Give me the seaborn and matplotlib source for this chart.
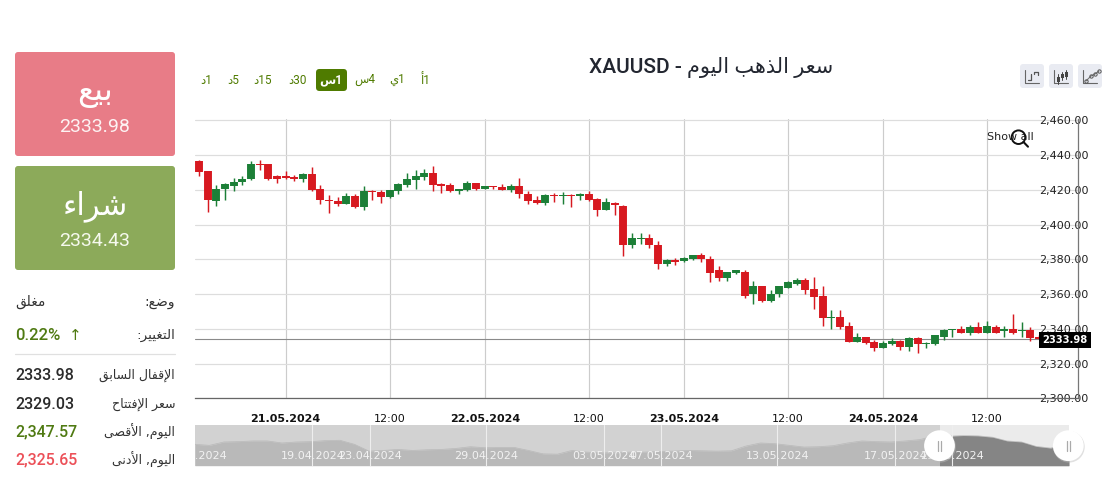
import re
import numpy as np
import pandas as pd
import matplotlib
matplotlib.use("Agg")
import matplotlib.pyplot as plt
from matplotlib.patches import FancyBboxPatch, Circle, Rectangle
import seaborn as sns

# ---------- data ----------
opens = [2436.7,2431.0,2413.4,2420.3,2422.4,2424.7,2426.0,2435.0,2435.0,2427.7,2428.1,2427.5,2426.0,2429.3,2420.7,2414.3,2413.8,2412.0,2416.6,2410.3,
         2419.5,2418.9,2416.1,2419.5,2423.0,2425.8,2427.5,2429.8,2423.5,2423.0,2419.5,2420.1,2424.1,2420.7,2422.4,2421.8,2420.1,2422.4,2417.8,2414.3,
         2412.6,2417.2,2416.6,2417.2,2416.6,2417.8,2414.9,2408.6,2412.6,2410.9,2388.5,2391.9,2392.5,2388.5,2377.6,2379.9,2379.3,2380.4,2382.7,2380.4,
         2373.6,2369.5,2372.4,2373.0,2359.8,2364.4,2355.8,2360.3,2363.8,2366.1,2368.4,2363.2,2359.2,2346.0,2346.6,2341.4,2332.2,2335.1,2332.2,2328.8,
         2331.1,2332.8,2329.3,2334.5,2331.1,2331.1,2335.1,2339.1,2339.7,2337.9,2340.8,2337.9,2340.8,2338.5,2340.2,2338.5,2339.1,2335.6]
highs = [2437.3,2431.0,2423.0,2423.9,2426.8,2428.1,2436.7,2437.3,2435.0,2428.7,2431.0,2428.7,2429.8,2433.1,2423.0,2417.2,2415.9,2418.2,2417.8,2422.4,
         2420.1,2420.1,2420.1,2424.1,2429.8,2431.6,2432.1,2433.9,2423.9,2424.1,2420.7,2425.2,2424.1,2422.4,2422.4,2423.5,2423.5,2427.0,2419.5,2416.6,
         2417.8,2418.4,2418.9,2417.8,2418.4,2419.5,2415.5,2415.5,2413.2,2411.5,2395.4,2395.4,2394.8,2390.8,2380.4,2381.0,2381.6,2382.7,2383.9,2382.2,
         2375.9,2373.0,2374.1,2373.6,2367.8,2364.9,2362.1,2364.4,2367.8,2369.5,2369.5,2370.1,2364.4,2350.6,2350.6,2343.7,2337.4,2335.6,2333.4,2332.8,
         2334.5,2333.4,2335.6,2335.1,2332.2,2336.2,2340.2,2340.2,2341.4,2342.0,2343.7,2344.8,2342.5,2341.4,2348.3,2343.7,2340.8,2336.6]
lows = [2427.7,2407.1,2410.5,2414.3,2419.1,2422.6,2425.4,2431.2,2425.8,2423.9,2426.4,2424.9,2424.3,2419.5,2411.7,2406.5,2410.5,2412.0,2409.4,2408.2,
        2414.0,2412.2,2415.1,2417.4,2421.8,2420.3,2425.4,2419.5,2418.0,2418.5,2417.4,2419.5,2420.1,2420.7,2420.7,2420.1,2418.9,2415.5,2412.0,2412.0,
        2411.5,2413.2,2412.0,2410.3,2414.3,2413.8,2404.8,2408.6,2405.7,2382.2,2386.4,2389.1,2386.8,2374.7,2376.4,2377.0,2378.7,2379.9,2378.7,2366.7,
        2367.8,2367.8,2371.3,2358.0,2354.6,2355.2,2355.2,2358.6,2363.8,2365.5,2360.3,2351.2,2341.4,2340.2,2340.2,2332.2,2332.2,2331.1,2327.0,2328.8,
        2330.5,2327.6,2327.0,2325.9,2328.8,2330.5,2333.4,2335.6,2337.4,2336.2,2337.4,2337.9,2337.9,2335.6,2336.8,2335.6,2332.8,2333.9]
closes = [2430.4,2414.0,2420.5,2423.5,2424.7,2426.4,2435.0,2434.4,2426.4,2426.0,2427.0,2426.0,2429.3,2420.1,2414.0,2413.8,2412.0,2416.6,2410.3,2419.5,
          2418.5,2416.1,2420.1,2423.5,2426.4,2428.1,2429.8,2423.0,2422.4,2419.5,2420.7,2424.1,2420.7,2422.4,2421.8,2420.1,2422.4,2417.8,2413.8,2412.6,
          2417.2,2416.6,2417.2,2416.6,2417.8,2414.3,2408.6,2413.2,2411.5,2388.5,2392.5,2392.5,2388.5,2377.6,2379.9,2378.7,2381.0,2382.7,2380.4,2372.4,
          2369.5,2373.0,2373.6,2359.2,2364.4,2355.8,2360.3,2364.4,2366.7,2368.4,2362.6,2358.6,2346.0,2347.1,2340.8,2332.2,2335.6,2331.6,2328.8,2331.6,
          2332.8,2329.3,2334.5,2331.1,2331.6,2336.2,2339.1,2339.7,2337.9,2340.8,2337.4,2341.4,2337.9,2340.2,2337.9,2339.1,2334.5,2333.98]

y_ticks = [2300, 2320, 2340, 2360, 2380, 2400, 2420, 2440, 2460]
x_tick_idx = [10, 22, 33, 45, 56, 68, 79, 91]
x_tick_lbl = ["21.05.2024", "12:00", "22.05.2024", "12:00", "23.05.2024", "12:00", "24.05.2024", "12:00"]
last_price = 2333.98

nav_values = [2379,2370,2400,2403,2409,2409,2391,2400,2403,2412,2415,2379,2319,2325,2334,2325,2331,2334,2343,2358,
              2349,2352,2352,2325,2295,2292,2325,2310,2304,2304,2310,2310,2316,2319,2325,2322,2319,2322,2364,2391,
              2385,2370,2355,2358,2367,2391,2409,2403,2400,2409,2421,2454,2451,2457,2454,2442,2409,2400,2361,2346,2373,2385]
nav_days = [k / 2 for k in range(len(nav_values))]
nav_ticks = [0.04, 4.045, 6.045, 10.045, 14.11, 16.08, 20.08, 24.15, 26.11]
nav_labels = ["15.04.2024", "19.04.2024", "23.04.2024", "29.04.2024", "03.05.2024",
              "07.05.2024", "13.05.2024", "17.05.2024", "21.05.2024"]

timeframes = ["1د", "5د", "15د", "30د", "1س", "4س", "1ي", "1أ"]
sell_label, sell_price = "بيع", "2333.98"
buy_label, buy_price = "شراء", "2334.43"
title_ar = "سعر الذهب اليوم"
title_sym = "XAUUSD"
rows = [("الإقفال السابق", "2333.98", "#2b2b2b"),
        ("سعر الإفتتاح", "2329.03", "#2b2b2b"),
        ("اليوم, الأقصى", "2,347.57", "#4f7a12"),
        ("اليوم, الأدنى", "2,325.65", "#ec5058")]

# ---------- Arabic shaping (matplotlib does no shaping or bidi) ----------
FORMS = {
 "ء": (0xFE80,), "أ": (0xFE83, 0xFE84), "إ": (0xFE87, 0xFE88), "ا": (0xFE8D, 0xFE8E),
 "ب": (0xFE8F, 0xFE90, 0xFE91, 0xFE92), "ت": (0xFE95, 0xFE96, 0xFE97, 0xFE98),
 "د": (0xFEA9, 0xFEAA), "ذ": (0xFEAB, 0xFEAC), "ر": (0xFEAD, 0xFEAE),
 "س": (0xFEB1, 0xFEB2, 0xFEB3, 0xFEB4), "ش": (0xFEB5, 0xFEB6, 0xFEB7, 0xFEB8),
 "ص": (0xFEB9, 0xFEBA, 0xFEBB, 0xFEBC), "ض": (0xFEBD, 0xFEBE, 0xFEBF, 0xFEC0),
 "ع": (0xFEC9, 0xFECA, 0xFECB, 0xFECC), "غ": (0xFECD, 0xFECE, 0xFECF, 0xFED0),
 "ف": (0xFED1, 0xFED2, 0xFED3, 0xFED4), "ق": (0xFED5, 0xFED6, 0xFED7, 0xFED8),
 "ل": (0xFEDD, 0xFEDE, 0xFEDF, 0xFEE0), "م": (0xFEE1, 0xFEE2, 0xFEE3, 0xFEE4),
 "ن": (0xFEE5, 0xFEE6, 0xFEE7, 0xFEE8), "ه": (0xFEE9, 0xFEEA, 0xFEEB, 0xFEEC),
 "و": (0xFEED, 0xFEEE), "ى": (0xFEEF, 0xFEF0), "ي": (0xFEF1, 0xFEF2, 0xFEF3, 0xFEF4),
 "لا": (0xFEFB, 0xFEFC), "لأ": (0xFEF7, 0xFEF8), "لإ": (0xFEF9, 0xFEFA),
}

def ar(text):
    toks, i = [], 0
    while i < len(text):
        if text[i:i + 2] in FORMS:
            toks.append(text[i:i + 2]); i += 2
        else:
            toks.append(text[i]); i += 1
    out = []
    for n, t in enumerate(toks):
        f = FORMS.get(t)
        if f is None:
            out.append(t); continue
        pf = FORMS.get(toks[n - 1]) if n else None
        nf = FORMS.get(toks[n + 1]) if n + 1 < len(toks) else None
        jp = pf is not None and len(pf) == 4 and len(f) > 1
        jn = nf is not None and len(f) == 4 and len(nf) > 1
        if jp and jn:
            out.append(chr(f[3]))
        elif jn:
            out.append(chr(f[2]))
        elif jp:
            out.append(chr(f[1]))
        else:
            out.append(chr(f[0]))
    vis = "".join(reversed(out))
    return re.sub(r"[0-9]+", lambda m: m.group(0)[::-1], vis)

# ---------- figure ----------
sns.set_theme(style="white")
plt.rcParams["font.family"] = ["DejaVu Sans"]
W, H = 1120, 486
fig = plt.figure(figsize=(W / 100, H / 100), dpi=100, facecolor="white")

def axpx(l, t, r, b, **k):
    return fig.add_axes([l / W, (H - b) / H, (r - l) / W, (b - t) / H], **k)

RED, GREEN = "#d71920", "#1c7f37"
df = pd.DataFrame({"i": range(len(opens)), "open": opens, "high": highs, "low": lows, "close": closes})
df["dir"] = np.where(df["close"] >= df["open"], "up", "down")
wicks = df.melt(id_vars=["i", "dir"], value_vars=["low", "high"], value_name="price")
bodies = df.melt(id_vars=["i", "dir"], value_vars=["open", "close"], value_name="price")
pal = {"up": GREEN, "down": RED}

ax = axpx(195, 119.3, 1078, 398.4)
PX = 8.66
ax.set_xlim((195 - 199) / PX, (1078 - 199) / PX)
ax.set_ylim(2300, 2460.6)
ax.set_axisbelow(True)
ax.set_yticks(y_ticks)
ax.set_yticklabels([f"{v:,.2f}" for v in y_ticks], fontsize=8, color="#222222", ha="left")
ax.set_xticks(x_tick_idx)
ax.set_xticklabels(x_tick_lbl, fontsize=8, color="#111111")
for lab, s in zip(ax.get_xticklabels(), x_tick_lbl):
    if "." in s:
        lab.set_fontweight("bold")
ax.yaxis.tick_right()
ax.tick_params(axis="y", length=0, pad=-28.1)
ax.tick_params(axis="x", length=3, width=0.75, color="#888888", pad=8.2)
ax.grid(axis="y", color="#dddddd", lw=0.85)
ax.grid(axis="x", color="#cccccc", lw=0.85)
for s in ["left", "top"]:
    ax.spines[s].set_visible(False)
ax.spines["right"].set_color("#777777")
ax.spines["bottom"].set_color("#666666")
for s in ["right", "bottom"]:
    ax.spines[s].set_linewidth(0.9)
ax.spines["right"].set_zorder(1)
ax.axhline(last_price, color="#8a8a8a", lw=0.8, zorder=1.5)

sns.lineplot(data=wicks, x="i", y="price", units="i", estimator=None, hue="dir", palette=pal,
             legend=False, ax=ax, lw=1.05, solid_capstyle="butt", sort=False, zorder=3)
sns.lineplot(data=bodies, x="i", y="price", units="i", estimator=None, hue="dir", palette=pal,
             legend=False, ax=ax, lw=5.7, solid_capstyle="butt", sort=False, zorder=3.5)
ax.set_xlabel(""); ax.set_ylabel("")

# navigator
NAV_L, NAV_R, NAV_SEL = 195, 1069.3, 939.5
nav = axpx(NAV_L, 425, NAV_R, 465.7)
nav_xmax = (NAV_R - NAV_L) / 29
nav.set_facecolor("#d2d2d2")
sel_x = (NAV_SEL - NAV_L) / 29
nav.axvspan(sel_x, nav_xmax, color="#ebebeb", lw=0, zorder=0.5)
sns.lineplot(x=nav_days, y=nav_values, ax=nav, color="#b9b9b9", lw=0.5, legend=False, zorder=1)
nav.fill_between(nav_days, nav_values, 2190, color="#b9b9b9", lw=0, zorder=1)
sel = nav.fill_between(nav_days, nav_values, 2190, color="#858585", lw=0, zorder=1.2)
sel.set_clip_path(Rectangle((sel_x, 2190), nav_xmax - 0.03 - sel_x, 360, transform=nav.transData))
nav.set_xlim(0, nav_xmax)
nav.set_ylim(2190, 2550)
for t, l in zip(nav_ticks[1:], nav_labels[1:]):
    nav.axvline(t, color="#eeeeee", lw=0.8, zorder=2)
for t, l in zip(nav_ticks, nav_labels):
    nav.text(t, 2278, l, ha="center", va="center", fontsize=8, color="#f2f2f2", clip_on=True, zorder=3)
nav.set_xticks([]); nav.set_yticks([])
nav.set_xlabel(""); nav.set_ylabel("")
for s in nav.spines.values():
    s.set_visible(False)

# overlay in pixel space for the page furniture
ov = fig.add_axes([0, 0, 1, 1], zorder=10)
ov.set_xlim(0, W); ov.set_ylim(H, 0); ov.axis("off"); ov.patch.set_alpha(0)

AR = ["DejaVu Sans"]
RB = ["Roboto", "DejaVu Sans"]

def box(x0, y0, x1, y1, c, r=3):
    ov.add_patch(FancyBboxPatch((x0 + r, y0 + r), x1 - x0 - 2 * r, y1 - y0 - 2 * r,
                                boxstyle=f"round,pad={r},rounding_size={r}", fc=c, ec="none"))

box(15, 52, 175, 156, "#e87c87")
box(15, 166, 175, 270, "#8caa5a")
ov.text(95, 93, ar(sell_label), family=AR, fontsize=23, color="white", ha="center", va="center")
ov.text(95, 127, sell_price, family=RB, fontsize=14, color="#fdf3f3", ha="center", va="center")
ov.text(95, 206, ar(buy_label), family=AR, fontsize=22, color="white", ha="center", va="center")
ov.text(95, 241, buy_price, family=RB, fontsize=14, color="#f6f9ee", ha="center", va="center")

TXT = "#333333"
ov.text(175, 302, ar("وضع:"), family=AR, fontsize=10, color=TXT, ha="right", va="center")
ov.text(15, 302, ar("مغلق"), family=AR, fontsize=10, color=TXT, ha="left", va="center")
ov.text(175, 335, ar("التغيير:"), family=AR, fontsize=9.7, color=TXT, ha="right", va="center")
ov.text(15, 335, "0.22%", family=RB, fontsize=12, weight=500, color="#4f7a12", ha="left", va="center")
ov.text(75, 335, "↑", family=AR, fontsize=11, color="#4f7a12", ha="center", va="center")
ov.plot([15, 175], [353.5, 353.5], color="#e0e0e0", lw=0.9)
for y, (lab, val, col) in zip([375.5, 404, 432, 460], rows):
    ov.text(175, y, ar(lab), family=AR, fontsize=9, color=TXT, ha="right", va="center")
    ov.text(15, y, val, family=RB, fontsize=11.5, weight=500, color=col, ha="left", va="center")

# timeframe buttons
box(316, 69, 347, 91, "#4f7b00", r=3.5)
for x, tf in zip([205.7, 232.7, 263, 297, 331, 365, 397, 425.7], timeframes):
    active = tf == "1س"
    ov.text(x, 80, ar(tf), family=RB, fontsize=8.5, weight="bold" if active else "normal",
            color="white" if active else "#4f7b00", ha="center", va="center")

ov.text(711.5, 67, title_sym + " - " + ar(title_ar), family=RB, fontsize=15, weight=500,
        color="#222630", ha="center", va="center")

# icons
for x0 in (1020, 1049, 1078):
    box(x0, 64, x0 + 24, 88, "#e9ebf2", r=3)
    ov.plot([x0 + 5, x0 + 5, x0 + 19], [70, 83, 83], color="#666666", lw=0.8)
ov.plot([1028, 1031, 1031], [80, 80, 74], color="#555555", lw=0.9)
ov.plot([1034, 1034, 1038, 1038], [74, 72, 72, 75], color="#555555", lw=0.9)
for x, lo, hi, top, bot in [(1058, 74, 84, 77, 82), (1062, 72, 80, 74, 78), (1066, 70, 79, 72, 77)]:
    ov.plot([x, x], [lo, hi], color="#444444", lw=0.7)
    ov.add_patch(Rectangle((x - 1.5, top), 3, bot - top, fc="#444444", ec="none"))
ov.plot([1086, 1091, 1095, 1099], [81, 76, 74, 71], color="#777777", lw=0.8, marker="o", ms=2.4,
        mfc="none", mec="#555555", mew=0.7)

# show all / magnifier
ov.text(987, 137, "Show all", fontsize=8, color="#222222", ha="left", va="center", zorder=4)
ov.add_patch(Circle((1018.5, 137.2), 6.8, fc="none", ec="#111111", lw=1.4, zorder=5))
ov.plot([1023.5, 1028], [142, 146.7], color="#111111", lw=1.5, zorder=5)

# last price tag
ov.add_patch(Rectangle((1039, 332), 52, 15.5, fc="black", ec="none", zorder=6))
ov.text(1065, 340, f"{last_price:.2f}", fontsize=7.2, weight="bold", color="white",
        ha="center", va="center", zorder=7)

# navigator handles
for cx in (939.5, 1068.3):
    ov.add_patch(Circle((cx + 0.6, 446.8), 15.8, fc="#bbbbbb", ec="none", alpha=0.45, zorder=6))
    ov.add_patch(Circle((cx, 445.7), 15.4, fc="white", ec="none", zorder=7))
    for dx in (-1.7, 1.7):
        ov.plot([cx + dx, cx + dx], [440.5, 451], color="#aaaaaa", lw=0.9, zorder=8)

fig.savefig("out.png", dpi=100, facecolor="white")
